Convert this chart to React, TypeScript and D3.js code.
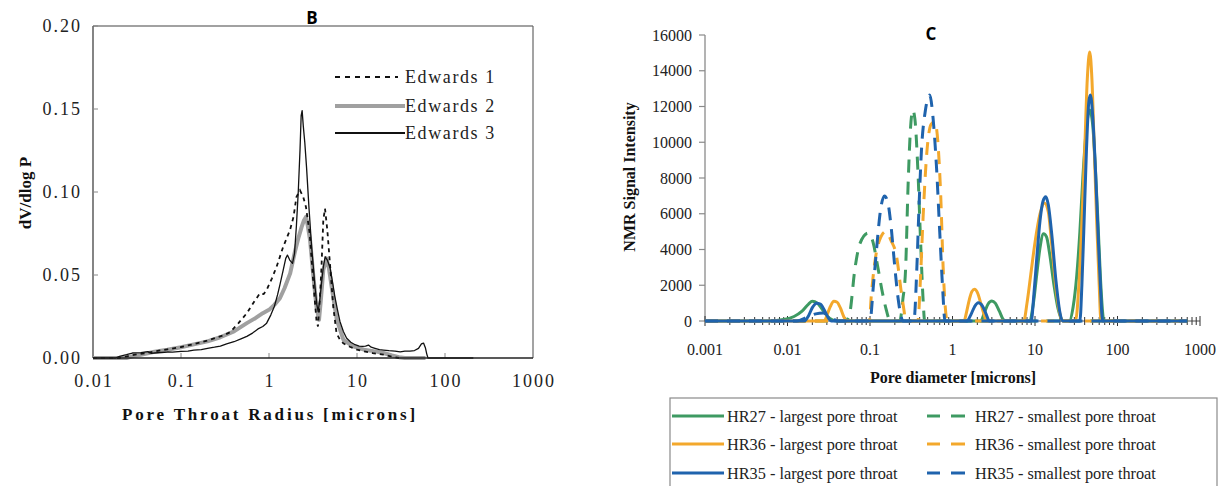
import React from "react";
import * as d3 from "d3";

// ---------- Chart B data (pore throat radius [microns], dV/dlog P) ----------
const edwards1: [number, number][] = [
  [0.01, 0], [0.02, 0], [0.025, 0.0012], [0.03, 0.002], [0.04, 0.003], [0.05, 0.004], [0.07, 0.0052],
  [0.1, 0.0066], [0.14, 0.0084], [0.2, 0.0105], [0.26, 0.0125], [0.31, 0.0138], [0.36, 0.0155],
  [0.45, 0.021], [0.56, 0.027], [0.68, 0.034], [0.79, 0.039], [0.87, 0.0385], [0.94, 0.041],
  [1.08, 0.048], [1.22, 0.055], [1.45, 0.067], [1.73, 0.077], [1.9, 0.085], [2.05, 0.097],
  [2.25, 0.101], [2.45, 0.097], [2.63, 0.091], [2.9, 0.075], [3.17, 0.047], [3.46, 0.023],
  [3.6, 0.019], [3.78, 0.035], [3.95, 0.055], [4.14, 0.083], [4.33, 0.09], [4.6, 0.077],
  [4.96, 0.055], [5.37, 0.031], [5.85, 0.015], [6.4, 0.011], [7.0, 0.0088], [8.3, 0.0068],
  [10, 0.005], [12, 0.004], [15, 0.003], [20, 0.002], [25, 0.0008], [30, 0]
];

const edwards2: [number, number][] = [
  [0.01, 0], [0.024, 0], [0.028, 0.001], [0.035, 0.002], [0.05, 0.0038], [0.07, 0.005],
  [0.1, 0.0065], [0.14, 0.0082], [0.2, 0.01], [0.28, 0.0125], [0.4, 0.016], [0.56, 0.021],
  [0.7, 0.024], [0.85, 0.027], [1.0, 0.029], [1.15, 0.032], [1.33, 0.036], [1.5, 0.042],
  [1.74, 0.051], [1.97, 0.064], [2.15, 0.072], [2.35, 0.079], [2.5, 0.083], [2.63, 0.085],
  [2.75, 0.08], [2.93, 0.071], [3.17, 0.051], [3.46, 0.031], [3.7, 0.023], [3.9, 0.036],
  [4.14, 0.053], [4.5, 0.06], [4.8, 0.054], [5.15, 0.043], [5.9, 0.023], [7.0, 0.011],
  [9, 0.007], [12, 0.005], [16, 0.004], [20, 0.003], [25, 0.0015], [30, 0.0005], [35, 0], [60, 0]
];

const edwards3: [number, number][] = [
  [0.01, 0], [0.018, 0], [0.02, 0.001], [0.024, 0.002], [0.028, 0.003], [0.035, 0.0032],
  [0.042, 0.0038], [0.046, 0.0028], [0.05, 0.003], [0.06, 0.0033], [0.07, 0.0036], [0.08, 0.0035],
  [0.1, 0.004], [0.12, 0.0042], [0.14, 0.0048], [0.17, 0.005], [0.2, 0.0058], [0.24, 0.0065],
  [0.28, 0.0072], [0.33, 0.0085], [0.4, 0.0098], [0.48, 0.0115], [0.56, 0.013], [0.65, 0.015],
  [0.75, 0.0175], [0.85, 0.019], [0.94, 0.021], [1.05, 0.026], [1.15, 0.031], [1.25, 0.038],
  [1.33, 0.044], [1.45, 0.053], [1.55, 0.06], [1.62, 0.062], [1.72, 0.059], [1.85, 0.057],
  [1.95, 0.063], [2.05, 0.08], [2.15, 0.1], [2.25, 0.125], [2.32, 0.146], [2.38, 0.149],
  [2.45, 0.14], [2.55, 0.13], [2.67, 0.115], [2.85, 0.09], [3.05, 0.067], [3.33, 0.043],
  [3.5, 0.032], [3.62, 0.028], [3.8, 0.036], [3.95, 0.045], [4.15, 0.055], [4.35, 0.061],
  [4.6, 0.059], [4.96, 0.054], [5.3, 0.045], [5.6, 0.037], [6.0, 0.029], [6.4, 0.022],
  [7.0, 0.016], [7.6, 0.012], [8.5, 0.0095], [9.5, 0.008], [10.6, 0.0072], [11.5, 0.007],
  [12.5, 0.0072], [13.5, 0.0078], [14.5, 0.0065], [16, 0.0058], [18, 0.005], [20, 0.0048],
  [23, 0.0044], [27, 0.0042], [31, 0.0037], [35, 0.0042], [40, 0.0042], [45, 0.0045],
  [50, 0.0058], [54, 0.0085], [57, 0.009], [60, 0.006], [62, 0.0025], [64, 0], [210, 0]
];

const bXTicks = [0.01, 0.1, 1, 10, 100, 1000];
const bXLabels = ["0.01", "0.1", "1", "10", "100", "1000"];
const bYTicks = [0, 0.05, 0.1, 0.15, 0.2];
const bYLabels = ["0.00", "0.05", "0.10", "0.15", "0.20"];
const bLegend = ["Edwards 1", "Edwards 2", "Edwards 3"];

// ---------- Chart C data (pore diameter [microns], NMR signal intensity) ----------
const hr27Largest: [number, number][] = [
  [0.001, 0], [0.006, 0], [0.009, 80], [0.012, 250], [0.015, 550], [0.018, 950], [0.02, 1100],
  [0.023, 1000], [0.026, 700], [0.03, 300], [0.035, 60], [0.04, 0],
  [2.2, 0], [2.45, 500], [2.7, 950], [3.0, 1120], [3.3, 1000], [3.7, 550], [4.1, 100], [4.4, 0],
  [8.5, 0], [9.5, 900], [10.5, 2600], [11.5, 4100], [12.7, 4880], [13.8, 4700], [15, 3800],
  [17, 2000], [19, 700], [21, 100], [22, 0],
  [26, 0], [29, 800], [32, 2500], [35, 5000], [38, 8000], [42, 10800], [46, 11800], [50, 11000],
  [54, 8500], [58, 5500], [62, 2500], [66, 500], [68, 0], [700, 0]
];
const hr27Smallest: [number, number][] = [
  [0.001, 0], [0.05, 0], [0.056, 300], [0.066, 3000], [0.075, 4300], [0.095, 4920], [0.109, 4400],
  [0.124, 3050], [0.142, 1550], [0.158, 600], [0.176, 0],
  [0.23, 0], [0.25, 1200], [0.27, 2900], [0.29, 7700], [0.31, 10800], [0.33, 11800], [0.35, 11300],
  [0.38, 8500], [0.41, 4500], [0.44, 1200], [0.46, 0], [700, 0]
];
const hr36Largest: [number, number][] = [
  [0.001, 0], [0.028, 0], [0.03, 300], [0.033, 800], [0.0365, 1100], [0.04, 1050], [0.044, 700],
  [0.048, 250], [0.052, 0],
  [1.38, 0], [1.48, 500], [1.6, 1200], [1.72, 1650], [1.85, 1770], [2.0, 1600], [2.2, 1000],
  [2.4, 400], [2.6, 0],
  [7.3, 0], [8.0, 1000], [9.0, 2800], [10, 4400], [11.5, 6000], [13, 6600], [14.5, 6100],
  [16, 4200], [18, 1800], [20, 400], [21.5, 0],
  [31, 0], [34, 2000], [37, 5500], [40, 9500], [43, 13500], [46, 15050], [49, 13500],
  [52, 10000], [56, 5500], [60, 2000], [63, 0], [700, 0]
];
const hr36Smallest: [number, number][] = [
  [0.001, 0], [0.098, 0], [0.104, 1500], [0.113, 3100], [0.13, 4500], [0.155, 5000], [0.18, 4500],
  [0.21, 3600], [0.237, 1770], [0.26, 500], [0.27, 0],
  [0.38, 0], [0.41, 2500], [0.44, 5800], [0.49, 9500], [0.55, 11000], [0.61, 11150], [0.67, 9800],
  [0.72, 7000], [0.77, 3000], [0.82, 700], [0.86, 0], [700, 0]
];
const hr35Largest: [number, number][] = [
  [0.001, 0], [0.016, 0], [0.018, 300], [0.02, 750], [0.0225, 1000], [0.025, 950], [0.028, 600],
  [0.031, 200], [0.034, 0],
  [1.5, 0], [1.65, 300], [1.85, 800], [2.05, 1020], [2.3, 850], [2.55, 400], [2.8, 0],
  [9, 0], [9.7, 1500], [10.5, 3500], [11.5, 5600], [12.5, 6700], [13.5, 6950], [14.5, 6500],
  [16, 4800], [18, 2200], [20, 500], [21.5, 0],
  [35, 0], [37, 2000], [39, 5000], [42, 9500], [45, 12300], [47, 12640], [50, 11500],
  [54, 8500], [58, 5000], [62, 2000], [66, 0], [700, 0]
];
const hr35Smallest: [number, number][] = [
  [0.001, 0], [0.013, 0], [0.017, 200], [0.022, 400], [0.027, 450], [0.032, 300], [0.037, 80],
  [0.04, 0],
  [0.1, 0], [0.11, 2000], [0.12, 4000], [0.135, 6300], [0.15, 7000], [0.165, 6600], [0.18, 5300],
  [0.2, 3000], [0.22, 1200], [0.24, 200], [0.25, 0],
  [0.34, 0], [0.37, 3000], [0.39, 6000], [0.42, 9500], [0.47, 11800], [0.53, 12640],
  [0.58, 11400], [0.64, 8600], [0.7, 5000], [0.76, 1800], [0.81, 0], [700, 0]
];

const cXTicks = [0.001, 0.01, 0.1, 1, 10, 100, 1000];
const cXLabels = ["0.001", "0.01", "0.1", "1", "10", "100", "1000"];
const cYTicks = [0, 2000, 4000, 6000, 8000, 10000, 12000, 14000, 16000];
const cLegendLeft = ["HR27 - largest pore throat", "HR36 - largest pore throat", "HR35 - largest pore throat"];
const cLegendRight = ["HR27 - smallest pore throat", "HR36 - smallest pore throat", "HR35 - smallest pore throat"];

const GREEN = "#3e9a62";
const ORANGE = "#f3a82c";
const BLUE = "#1f63ad";
const SERIF = "'Liberation Serif', 'Times New Roman', serif";
const SANS = "'Open Sans', 'Liberation Sans', sans-serif";

export default function App() {
  // Chart B scales
  const xB = d3.scaleLog().domain([0.01, 1000]).range([93, 533]);
  const yB = d3.scaleLinear().domain([0, 0.2]).range([358, 26]);
  const lineB = d3.line<[number, number]>().x((d) => xB(d[0])).y((d) => yB(d[1]));

  // Chart C scales
  const xC = d3.scaleLog().domain([0.001, 1000]).range([705, 1200]);
  const yC = d3.scaleLinear().domain([0, 16000]).range([321, 35]);
  const lineC = d3
    .line<[number, number]>()
    .x((d) => xC(d[0]))
    .y((d) => yC(d[1]))
    .curve(d3.curveMonotoneX);

  const minorC: number[] = [];
  for (let e = -3; e < 3; e++) {
    for (let m = 2; m <= 9; m++) minorC.push(m * Math.pow(10, e));
  }

  const cSeries = [
    { data: hr27Largest, color: GREEN, dash: undefined },
    { data: hr27Smallest, color: GREEN, dash: "13,9" },
    { data: hr36Largest, color: ORANGE, dash: undefined },
    { data: hr36Smallest, color: ORANGE, dash: "13,9" },
    { data: hr35Largest, color: BLUE, dash: undefined },
    { data: hr35Smallest, color: BLUE, dash: "13,9" },
  ];
  const legendColors = [GREEN, ORANGE, BLUE];
  const legendRows = [416, 444, 473];

  return (
    <svg
      width={1222}
      height={486}
      style={{ position: "absolute", left: 0, top: 0, background: "#fff" }}
    >
      <rect x={0} y={0} width={1222} height={486} fill="#fff" />

      {/* ================= Chart B ================= */}
      <text x={312} y={17} textAnchor="middle" dominantBaseline="central" fontFamily={SANS} fontWeight="bold" fontSize={17}>
        B
      </text>
      {/* frame */}
      <line x1={93} y1={26} x2={533} y2={26} stroke="#444" strokeWidth={1.2} />
      <line x1={533} y1={26} x2={533} y2={358} stroke="#666" strokeWidth={1.2} />
      <line x1={93} y1={26} x2={93} y2={358} stroke="#333" strokeWidth={1.2} />
      {/* y ticks */}
      {bYTicks.map((t, i) => (
        <g key={"by" + i}>
          <line x1={93} x2={98} y1={yB(t)} y2={yB(t)} stroke="#888" />
          <text
            x={82}
            y={yB(t)}
            textAnchor="end"
            dominantBaseline="central"
            fontFamily={SERIF}
            fontSize={18}
            letterSpacing={2}
            fill="#222"
          >
            {bYLabels[i]}
          </text>
        </g>
      ))}
      {/* x ticks */}
      {bXTicks.map((t, i) => (
        <g key={"bx" + i}>
          {i > 0 && i < bXTicks.length - 1 && (
            <line x1={xB(t)} x2={xB(t)} y1={358} y2={353} stroke="#888" />
          )}
          <text
            x={xB(t) + 1}
            y={381}
            textAnchor="middle"
            dominantBaseline="central"
            fontFamily={SERIF}
            fontSize={18}
            letterSpacing={2}
            fill="#222"
          >
            {bXLabels[i]}
          </text>
        </g>
      ))}
      <text
        x={270}
        y={414}
        textAnchor="middle"
        dominantBaseline="central"
        fontFamily={SERIF}
        fontWeight="bold"
        fontSize={17}
        letterSpacing={2.8}
        fill="#111"
      >
        Pore Throat Radius [microns]
      </text>
      <text
        transform={`translate(25,193) rotate(-90)`}
        textAnchor="middle"
        dominantBaseline="central"
        fontFamily={SERIF}
        fontWeight="bold"
        fontSize={17}
        fill="#111"
      >
        dV/dlog P
      </text>

      {/* series */}
      <path d={lineB(edwards2) || ""} fill="none" stroke="#a0a0a0" strokeWidth={4} strokeLinejoin="round" />
      <path d={lineB(edwards1) || ""} fill="none" stroke="#111" strokeWidth={1.8} strokeDasharray="4,4" />
      <path d={lineB(edwards3) || ""} fill="none" stroke="#111" strokeWidth={1.3} strokeLinejoin="round" />
      <line x1={93} y1={358} x2={533} y2={358} stroke="#222" strokeWidth={1.5} />

      {/* legend B */}
      <line x1={335} x2={398} y1={77} y2={77} stroke="#111" strokeWidth={1.8} strokeDasharray="5,5" />
      <line x1={335} x2={405} y1={106} y2={106} stroke="#a0a0a0" strokeWidth={4} />
      <line x1={335} x2={405} y1={133} y2={133} stroke="#111" strokeWidth={1.8} />
      {bLegend.map((s, i) => (
        <text
          key={"bl" + i}
          x={405}
          y={[77, 106, 133][i]}
          dominantBaseline="central"
          fontFamily={SERIF}
          fontSize={18}
          letterSpacing={1.6}
          fill="#222"
        >
          {s}
        </text>
      ))}

      {/* ================= Chart C ================= */}
      <text x={931} y={33} textAnchor="middle" dominantBaseline="central" fontFamily={SANS} fontWeight="bold" fontSize={17}>
        C
      </text>
      <line x1={705} y1={35} x2={705} y2={321} stroke="#8a8a8a" strokeWidth={1.3} />
      {cYTicks.map((t, i) => (
        <g key={"cy" + i}>
          <line x1={699} x2={705} y1={yC(t)} y2={yC(t)} stroke="#8a8a8a" strokeWidth={1.2} />
          <text
            x={692}
            y={yC(t)}
            textAnchor="end"
            dominantBaseline="central"
            fontFamily={SERIF}
            fontSize={16}
            fill="#222"
          >
            {String(t)}
          </text>
        </g>
      ))}
      <line x1={705} y1={321} x2={1200} y2={321} stroke="#8a8a8a" strokeWidth={1.3} />
      {minorC.map((t, i) => (
        <line key={"cm" + i} x1={xC(t)} x2={xC(t)} y1={317} y2={325} stroke="#333" strokeWidth={1} />
      ))}
      {cXTicks.map((t, i) => (
        <g key={"cx" + i}>
          <line x1={xC(t)} x2={xC(t)} y1={316} y2={326} stroke="#333" strokeWidth={1} />
          <text
            x={xC(t)}
            y={349}
            textAnchor="middle"
            dominantBaseline="central"
            fontFamily={SERIF}
            fontSize={16}
            fill="#222"
          >
            {cXLabels[i]}
          </text>
        </g>
      ))}
      <text
        x={953}
        y={377}
        textAnchor="middle"
        dominantBaseline="central"
        fontFamily={SERIF}
        fontWeight="bold"
        fontSize={16}
        fill="#111"
      >
        Pore diameter [microns]
      </text>
      <text
        transform={`translate(629,177) rotate(-90)`}
        textAnchor="middle"
        dominantBaseline="central"
        fontFamily={SERIF}
        fontWeight="bold"
        fontSize={16}
        fill="#111"
      >
        NMR Signal Intensity
      </text>

      {cSeries.map((s, i) => (
        <path
          key={"cs" + i}
          d={lineC(s.data) || ""}
          fill="none"
          stroke={s.color}
          strokeWidth={3}
          strokeDasharray={s.dash}
          strokeLinejoin="round"
        />
      ))}

      {/* legend C */}
      <rect x={670} y={398} width={547} height={100} fill="none" stroke="#8a8a8a" strokeWidth={1.2} />
      {legendRows.map((y, i) => (
        <g key={"cl" + i}>
          <line x1={672} x2={724} y1={y} y2={y} stroke={legendColors[i]} strokeWidth={3} />
          <text x={727} y={y} dominantBaseline="central" fontFamily={SERIF} fontSize={16.3} fill="#222">
            {cLegendLeft[i]}
          </text>
          <line x1={927} x2={940} y1={y} y2={y} stroke={legendColors[i]} strokeWidth={3} />
          <line x1={951} x2={965} y1={y} y2={y} stroke={legendColors[i]} strokeWidth={3} />
          <text x={975} y={y} dominantBaseline="central" fontFamily={SERIF} fontSize={16.3} fill="#222">
            {cLegendRight[i]}
          </text>
        </g>
      ))}
    </svg>
  );
}
